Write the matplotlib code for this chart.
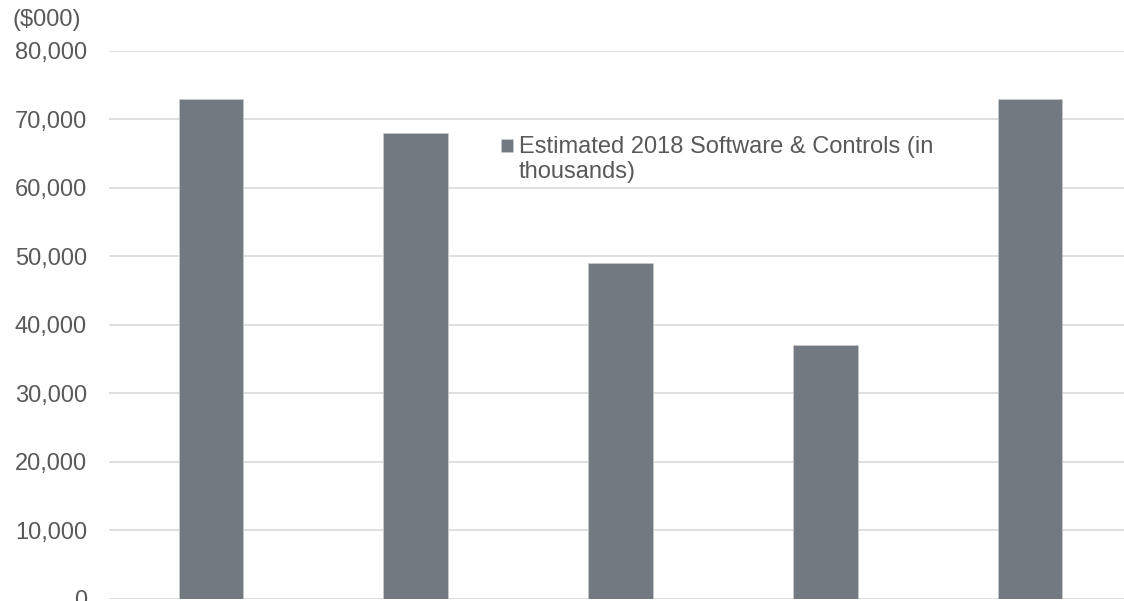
import matplotlib.pyplot as plt
from matplotlib.patches import Rectangle
from matplotlib.container import BarContainer
from matplotlib.legend_handler import HandlerPatch, update_from_first_child

plt.rcParams['font.family'] = ['Liberation Sans', 'DejaVu Sans']

categories = ['A', 'B', 'C', 'D', 'E']
values = [73000, 68000, 49000, 37000, 73000]
series_label = 'Estimated 2018 Software & Controls (in\nthousands)'
yticks = [0, 10000, 20000, 30000, 40000, 50000, 60000, 70000, 80000]

bar_color = '#727980'
grid_color = '#d9d9d9'
text_color = '#595959'

W, H = 1124, 601
fig = plt.figure(figsize=(W / 100, H / 100), dpi=100)
# axes runs past the right edge, like the cropped original
left, right = 108.6, 1132.4
bottom, top = 598.5, 51
ax = fig.add_axes([left / W, (H - bottom) / H, (right - left) / W, (bottom - top) / H])

x = list(range(len(categories)))
bars = ax.bar(x, values, width=0.315, color=bar_color, edgecolor='#c8ccd0',
              linewidth=0.5, label=series_label, zorder=2)

ax.set_xlim(-0.5, len(categories) - 0.5)
ax.set_ylim(0, 80000)
ax.set_yticks(yticks)
ax.set_yticklabels([f'{v:,}' for v in yticks])
ax.set_xticks([])
ax.tick_params(axis='y', length=0, pad=15.5, labelsize=17, labelcolor=text_color)
ax.grid(axis='y', color=grid_color, linewidth=1.2, zorder=0)
for s in ax.spines.values():
    s.set_visible(False)
ax.set_axisbelow(True)

fig.text(12 / W, 1 - 9 / H, '($000)', fontsize=17, color=text_color,
         ha='left', va='top')


# legend square sits on the first line of the wrapped label
def square_on_first_line(legend, orig_handle, xdescent, ydescent, width, height, fontsize):
    return Rectangle((-xdescent, -ydescent + 10), width, height)


leg = ax.legend(handles=[bars], loc='upper left',
                bbox_to_anchor=(501 / W, 1 - 136 / H), bbox_transform=fig.transFigure,
                frameon=False, fontsize=17, handlelength=0.51, handleheight=0.51,
                handletextpad=0.25, borderpad=0, borderaxespad=0,
                handler_map={BarContainer: HandlerPatch(patch_func=square_on_first_line,
                                                        update_func=update_from_first_child)})
for t in leg.get_texts():
    t.set_color(text_color)
    t.set_linespacing(1.17)

fig.savefig('out.png', dpi=100)
